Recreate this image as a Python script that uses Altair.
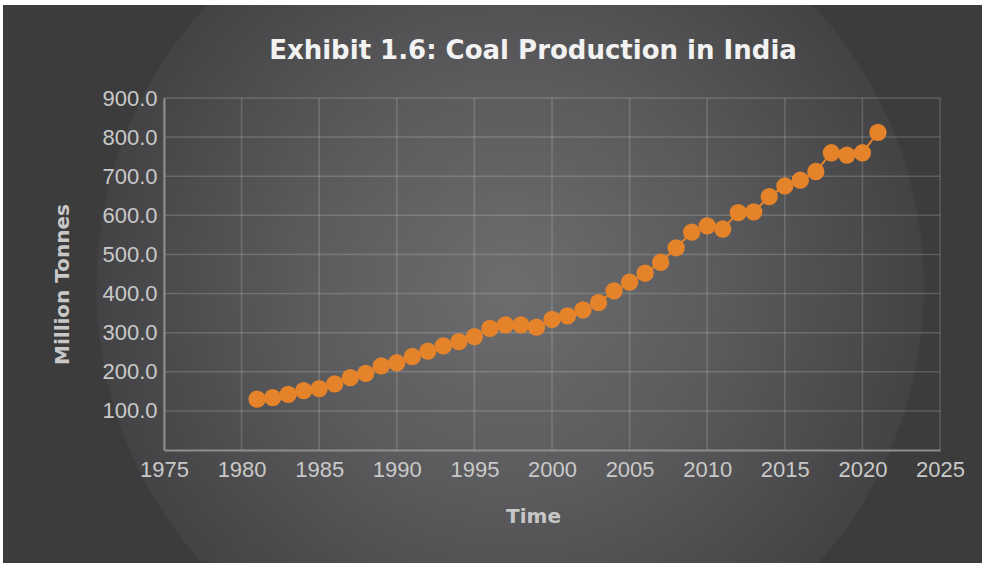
import altair as alt
import pandas as pd

# Annual coal production in India, million tonnes
years = [1981, 1982, 1983, 1984, 1985, 1986, 1987, 1988, 1989, 1990,
         1991, 1992, 1993, 1994, 1995, 1996, 1997, 1998, 1999, 2000,
         2001, 2002, 2003, 2004, 2005, 2006, 2007, 2008, 2009, 2010,
         2011, 2012, 2013, 2014, 2015, 2016, 2017, 2018, 2019, 2020, 2021]
production = [130, 134, 142, 152, 157, 169, 185, 196, 215, 223,
              239, 253, 266, 277, 290, 311, 320, 320, 314, 334,
              343, 358, 377, 407, 429, 452, 480, 517, 557, 573,
              565, 607, 609, 648, 675, 690, 712, 760, 754, 760, 812]

# Axis ticks
year_ticks = [1975, 1980, 1985, 1990, 1995, 2000, 2005, 2010, 2015, 2020, 2025]
tonne_ticks = [100, 200, 300, 400, 500, 600, 700, 800, 900]

df = pd.DataFrame({"year": years, "production": production})
xgrid_df = pd.DataFrame({"year": year_ticks})
ygrid_df = pd.DataFrame({"production": tonne_ticks})

W, H = 776, 352
PAD = {"left": 164, "top": 98, "right": 46, "bottom": 118}

ORANGE = "#e5832a"
LABEL_COLOR = "#c9c9c9"

x_enc = alt.X(
    "year:Q",
    scale=alt.Scale(domain=[1975, 2025], nice=False, zero=False),
    axis=alt.Axis(
        title="Time", values=year_ticks, format="d", zindex=1,
        grid=False, ticks=False, labelPadding=9, labelFlush=False,
        labelOverlap=False,
        titleX=369, titleY=66, titleBaseline="middle",
    ),
)
y_enc = alt.Y(
    "production:Q",
    scale=alt.Scale(domain=[0, 900], nice=False),
    axis=alt.Axis(
        title="Million Tonnes", values=tonne_ticks, format=".1f", zindex=1,
        grid=False, ticks=False, labelPadding=7, labelFlush=False,
        labelOverlap=False,
        titleX=-102, titleY=186, titleAngle=270, titleBaseline="middle",
    ),
)

one = alt.Data(values=[{}])
panel_box = dict(x=alt.value(-161), x2=alt.value(818), y=alt.value(-93), y2=alt.value(465))

# Dark panel behind everything
panel = alt.Chart(one).mark_rect(fill="#3c3c3c").encode(**panel_box)

# Soft circular light in the middle of the panel
glow = alt.Chart(one).mark_rect(
    fill={
        "gradient": "radial",
        "x1": 0.518, "y1": 0.503, "r1": 0,
        "x2": 0.518, "y2": 0.503, "r2": 0.424,
        "stops": [
            {"offset": 0.0, "color": "#6d6d6f"},
            {"offset": 0.5, "color": "#5b5b5d"},
            {"offset": 0.995, "color": "#434345"},
            {"offset": 1.0, "color": "rgba(60,60,60,0)"},
        ],
    }
).encode(**panel_box)

grid_x = alt.Chart(xgrid_df).mark_rule(color="white", opacity=0.17, strokeWidth=1.5).encode(x=x_enc)
grid_y = alt.Chart(ygrid_df).mark_rule(color="white", opacity=0.17, strokeWidth=1.5).encode(y=y_enc)

line = alt.Chart(df).mark_line(color=ORANGE, strokeWidth=2).encode(x=x_enc, y=y_enc)
points = alt.Chart(df).mark_circle(color=ORANGE, opacity=1, size=300).encode(x=x_enc, y=y_enc)

chart = alt.layer(panel, glow, grid_x, grid_y, line, points).properties(
    width=W,
    height=H,
    autosize=alt.AutoSizeParams(type="none"),
    padding=PAD,
    background="white",
    title=alt.TitleParams(
        text="Exhibit 1.6: Coal Production in India",
        frame="group", anchor="middle", dx=-19, dy=80, offset=0,
        baseline="alphabetic",
        font="DejaVu Sans", fontWeight="bold", fontSize=26, color="#f2f2f2",
    ),
).configure_view(
    stroke=None
).configure_axis(
    domainColor="#8e8e8e",
    domainWidth=2,
    labelFont="Liberation Sans",
    labelFontSize=22,
    labelColor=LABEL_COLOR,
    titleFont="DejaVu Sans",
    titleFontWeight="bold",
    titleFontSize=20,
    titleColor="#c8c8c8",
)

chart.save("out.html", embed_options={"renderer": "svg", "actions": False})
